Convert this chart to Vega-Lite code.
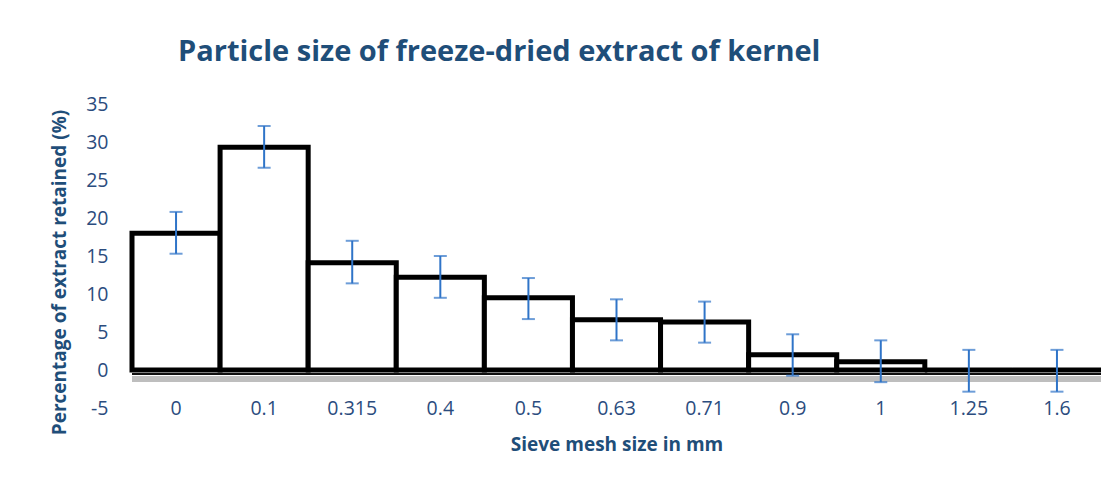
{
  "$schema": "https://vega.github.io/schema/vega-lite/v6.json",
  "width": 969,
  "height": 304,
  "autosize": "none",
  "padding": {"left": 132, "top": 104, "right": 15, "bottom": 75},
  "background": "white",
  "config": {"view": {"stroke": null}, "font": "Open Sans", "axis": {"labelOverlap": false}},
  "title": {
    "text": "Particle size of freeze-dried extract of kernel",
    "anchor": "start",
    "frame": "group",
    "dx": 46,
    "offset": 27,
    "fontSize": 29,
    "font": "Open Sans",
    "fontWeight": "bold",
    "color": "#1f4e79"
  },
  "data": {
    "values": [
      {"size": "0", "value": 18.0, "lo": 15.3, "hi": 20.8},
      {"size": "0.1", "value": 29.3, "lo": 26.6, "hi": 32.1},
      {"size": "0.315", "value": 14.1, "lo": 11.4, "hi": 17.0},
      {"size": "0.4", "value": 12.2, "lo": 9.5, "hi": 15.0},
      {"size": "0.5", "value": 9.5, "lo": 6.7, "hi": 12.1},
      {"size": "0.63", "value": 6.6, "lo": 3.9, "hi": 9.3},
      {"size": "0.71", "value": 6.3, "lo": 3.6, "hi": 9.0},
      {"size": "0.9", "value": 2.0, "lo": -0.75, "hi": 4.7},
      {"size": "1", "value": 1.1, "lo": -1.6, "hi": 3.9},
      {"size": "1.25", "value": 0, "lo": -2.85, "hi": 2.65},
      {"size": "1.6", "value": 0, "lo": -2.85, "hi": 2.65}
    ]
  },
  "layer": [
    {
      "mark": {"type": "rule", "color": "#bbbbbb", "strokeWidth": 6, "opacity": 0.25, "yOffset": 9},
      "encoding": {"y": {"datum": 0}}
    },
    {
      "mark": {"type": "bar", "fill": "white", "stroke": "black", "strokeWidth": 5, "strokeJoin": "miter"},
      "encoding": {
        "x": {
          "field": "size", "type": "nominal", "sort": null,
          "scale": {"paddingInner": 0, "paddingOuter": 0},
          "axis": {
            "orient": "bottom", "labelAngle": 0, "ticks": false, "domain": false,
            "labelBaseline": "middle", "labelPadding": 0,
            "labelFontSize": 19.5, "labelColor": "#2b4c7e", "labelFont": "Open Sans",
            "title": "Sieve mesh size in mm", "titleFontSize": 19, "titleFontWeight": "bold",
            "titleColor": "#1f4e79", "titlePadding": 18, "titleFont": "Open Sans"
          }
        },
        "y": {
          "field": "value", "type": "quantitative",
          "scale": {"domain": [-5, 35], "nice": false},
          "axis": {
            "tickCount": 8,
            "labelExpr": "'' + datum.value",
            "labelOverlap": false,
            "labelSeparation": 0,
            "grid": false, "domain": false, "ticks": false,
            "labelPadding": 24, "labelFontSize": 19.5, "labelColor": "#2b4c7e", "labelFont": "Open Sans",
            "title": "Percentage of extract retained (%)", "titleFontSize": 19, "titleFontWeight": "bold",
            "titleColor": "#1f4e79", "titlePadding": 16, "titleY": 168, "titleFont": "Open Sans"
          }
        }
      }
    },
    {
      "mark": {"type": "rule", "color": "black", "strokeWidth": 2.5},
      "encoding": {"y": {"datum": 0}}
    },
    {
      "mark": {"type": "rule", "color": "#111111", "strokeWidth": 1.6, "yOffset": 4},
      "encoding": {"y": {"datum": 0}}
    },
    {
      "mark": {"type": "rule", "color": "#2f74c8", "strokeWidth": 2},
      "encoding": {
        "x": {"field": "size", "type": "nominal", "sort": null},
        "y": {"field": "lo", "type": "quantitative"},
        "y2": {"field": "hi"}
      }
    },
    {
      "mark": {"type": "tick", "color": "#2f74c8", "size": 13, "thickness": 2},
      "encoding": {
        "x": {"field": "size", "type": "nominal", "sort": null},
        "y": {"field": "lo", "type": "quantitative"}
      }
    },
    {
      "mark": {"type": "tick", "color": "#2f74c8", "size": 13, "thickness": 2},
      "encoding": {
        "x": {"field": "size", "type": "nominal", "sort": null},
        "y": {"field": "hi", "type": "quantitative"}
      }
    }
  ]
}
